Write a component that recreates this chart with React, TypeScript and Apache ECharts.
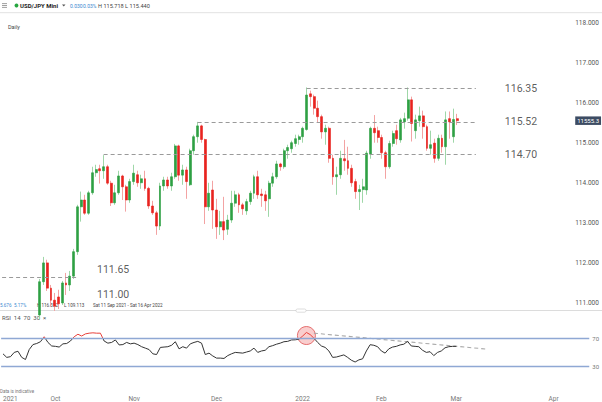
import React, { useEffect, useRef } from "react";
import * as echarts from "echarts";

// ---------- data ----------
const firstDay = "2021-09-13";
const mainCount = 150;
const rsiCount = 157;

const opens = [
  109.95, 110.05, 109.7, 109.35, 109.75, 109.95, 109.4, 109.25, 109.8, 110.3,
  110.7, 111.53, 112.0, 111.37, 111.07, 111.15, 111.0, 111.5, 111.45, 111.67,
  112.28, 113.4, 113.57, 113.24, 113.75, 114.25, 114.35, 114.3, 114.4, 113.99,
  113.5, 113.75, 114.17, 113.9, 113.57, 114.03, 114.2, 114.0, 114.1, 113.86,
  113.42, 113.25, 112.92, 113.92, 114.07, 113.92, 114.15, 114.92, 114.19, 114.32,
  113.95, 114.8, 115.15, 115.42, 115.08, 113.4, 113.82, 113.32, 112.9, 113.03,
  112.84, 113.07, 113.49, 113.7, 113.45, 113.3, 113.53, 113.74, 114.15, 113.72,
  113.7, 113.6, 113.99, 114.15, 114.47, 114.4, 114.8, 114.85, 114.98, 115.08,
  115.15, 115.33, 116.22, 116.15, 115.86, 115.65, 115.27, 115.36, 114.61, 114.15,
  114.2, 114.6, 114.55, 114.36, 114.03, 113.78, 113.83, 113.82, 114.72, 115.36,
  115.3, 115.13, 114.75, 114.4, 114.98, 115.3, 115.07, 115.52, 115.61, 116.07,
  115.3, 115.55, 115.67, 115.4, 114.86, 114.99, 114.61, 115.11, 114.9, 115.6,
  115.15, 115.6,
];
const closes = [
  110.05, 109.7, 109.35, 109.75, 109.95, 109.4, 109.25, 109.8, 110.3, 110.7,
  111.53, 112.0, 111.37, 111.07, 110.92, 110.98, 111.5, 111.45, 111.67, 112.28,
  113.4, 113.57, 113.24, 113.75, 114.25, 114.33, 114.3, 114.4, 113.99, 113.5,
  113.75, 114.17, 113.9, 113.57, 114.03, 114.24, 114.0, 114.1, 113.86, 113.42,
  113.25, 112.92, 113.92, 114.07, 113.92, 114.15, 114.92, 114.19, 114.32, 114.03,
  114.8, 115.15, 115.42, 115.08, 113.4, 113.74, 113.32, 112.9, 113.03, 112.82,
  113.07, 113.49, 113.7, 113.45, 113.35, 113.53, 113.74, 114.15, 113.7, 113.68,
  113.55, 113.99, 114.15, 114.47, 114.4, 114.8, 114.88, 115.0, 115.1, 115.15,
  115.36, 116.19, 116.15, 115.86, 115.65, 115.27, 115.36, 114.61, 114.15, 114.2,
  114.61, 114.55, 114.36, 114.0, 113.78, 113.83, 113.9, 114.74, 115.36, 115.25,
  115.13, 114.75, 114.4, 114.98, 115.23, 115.1, 115.57, 115.6, 116.07, 115.48,
  115.57, 115.67, 115.4, 114.86, 114.95, 114.61, 115.11, 114.9, 115.57, 115.52,
  115.58, 115.55,
];
const lows = [
  109.75, 109.6, 109.15, 109.15, 109.6, 109.1, 109.1, 109.2, 109.6, 110.2,
  110.6, 111.45, 111.3, 110.9, 110.8, 110.85, 110.95, 111.2, 111.3, 111.6,
  112.2, 113.03, 113.2, 113.2, 113.7, 114.15, 113.98, 114.1, 113.95, 113.42,
  113.45, 113.7, 113.57, 113.28, 113.5, 113.95, 113.9, 113.85, 113.8, 113.35,
  113.2, 112.7, 112.82, 113.8, 113.85, 113.8, 114.1, 114.05, 113.95, 113.6,
  113.92, 114.7, 115.0, 115.0, 112.97, 113.3, 112.85, 112.6, 112.7, 112.57,
  112.7, 113.0, 113.4, 113.25, 113.2, 113.2, 113.45, 113.6, 113.6, 113.4,
  113.3, 113.15, 113.9, 114.1, 114.3, 114.35, 114.6, 114.75, 114.9, 114.95,
  115.0, 115.3, 115.9, 115.7, 115.5, 115.1, 114.95, 114.5, 113.95, 113.7,
  114.1, 114.3, 114.2, 113.9, 113.6, 113.32, 113.5, 113.7, 114.6, 115.0,
  115.0, 114.6, 114.1, 114.35, 114.9, 114.95, 115.0, 115.35, 115.55, 115.03,
  115.1, 115.4, 115.1, 114.8, 114.7, 114.5, 114.55, 114.75, 114.45, 115.1,
  115.0, 115.44,
];
const highs = [
  110.15, 110.15, 109.8, 109.85, 110.05, 110.0, 109.65, 110.1, 110.5, 110.78,
  111.6, 112.15, 112.08, 111.45, 111.25, 111.33, 111.55, 111.75, 111.8, 112.35,
  113.45, 113.78, 113.7, 113.8, 114.4, 114.45, 114.45, 114.69, 114.45, 114.05,
  113.95, 114.3, 114.2, 113.95, 114.1, 114.45, 114.3, 114.2, 114.3, 113.9,
  113.55, 113.3, 114.0, 114.15, 114.15, 114.25, 114.97, 114.95, 114.45, 114.4,
  114.85, 115.2, 115.52, 115.45, 115.1, 114.0, 114.05, 113.6, 113.3, 113.65,
  113.2, 113.8, 113.8, 113.75, 113.5, 113.6, 113.8, 114.2, 114.3, 113.85,
  113.8, 114.05, 114.25, 114.55, 114.5, 114.85, 114.95, 115.05, 115.2, 115.2,
  115.4, 116.38, 116.3, 116.2, 116.05, 115.7, 115.45, 115.4, 114.7, 114.4,
  114.8, 115.07, 114.9, 114.45, 114.1, 113.95, 114.1, 114.8, 115.4, 115.69,
  115.4, 115.2, 114.8, 115.05, 115.3, 115.45, 115.62, 115.75, 116.38, 116.15,
  115.7, 115.9, 115.8, 115.45, 115.3, 115.1, 115.2, 115.2, 115.78, 115.78,
  115.85, 115.72,
];
const rsi = [
  48, 43, 44, 50, 51.6, 43, 40, 54, 61, 62.5,
  65, 72, 64, 59, 58.5, 57.5, 62, 62.5, 66, 72,
  75.5, 73, 76, 77, 77.5, 77, 77, 66, 63, 64,
  67.5, 60.5, 61, 64, 62, 63, 61, 58, 56, 54,
  48, 47, 57, 57.5, 58, 60, 65, 55, 58, 56,
  62, 64, 65.5, 63, 47, 49, 45, 42, 42, 41.5,
  45.5, 48, 50, 49.5, 49, 50.5, 52, 56, 50, 52,
  53, 58, 59.5, 61.5, 63, 65, 65.5, 67.5, 67.7, 68.5,
  73, 78, 75, 70, 64, 59, 57, 52, 43, 43.5,
  45, 46.5, 43, 39, 36.5, 39.5, 41, 52, 60.8, 60,
  58, 52, 49, 55, 57.5, 58.5, 60.5, 61.5, 65.5, 59,
  58.5, 58, 53, 50, 51, 45.5, 50, 52, 56.5, 58,
  58.5, 58.5,
];

const levelValues = [116.35, 115.52, 114.7, 111.65];
const levelStarts = ["2022-01-04", "2021-11-24", "2021-10-20", "2021-09-13"];
const levelEnds = ["2022-03-08", "2022-03-08", "2022-03-08", "2021-10-11"];
const levelLabelValues = [116.35, 115.52, 114.7, 111.65, 111.0];
const priceTicks = [111, 112, 113, 114, 115, 116, 117, 118];
const rsiTicks = [30, 70];
const rsiLevels = [70, 30];
const monthTicks: [string, string][] = [
  ["2021-09-13", "2021"],
  ["2021-10-01", "Oct"],
  ["2021-11-01", "Nov"],
  ["2021-12-01", "Dec"],
  ["2022-01-03", "2022"],
  ["2022-02-01", "Feb"],
  ["2022-03-01", "Mar"],
  ["2022-04-06", "Apr"],
];
const lastPrice = 115.553;
const lastPriceText = "11555.3";
const rsiTrend: [string, number][] = [
  ["2022-01-06", 77],
  ["2022-03-11", 54.7],
];
const rsiPeak: [string, number] = ["2022-01-04", 73.7];

// ---------- helpers ----------
function weekdayDates(start: string, count: number): string[] {
  const out: string[] = [];
  const d = new Date(start + "T00:00:00Z");
  while (out.length < count) {
    const wd = d.getUTCDay();
    if (wd !== 0 && wd !== 6) out.push(d.toISOString().slice(0, 10));
    d.setUTCDate(d.getUTCDate() + 1);
  }
  return out;
}

const FONT = "Roboto, 'Liberation Sans', sans-serif";
const GREEN = "#2ea043";
const RED = "#e8231f";
const GREEN_W = "#9fd7a8";
const RED_W = "#f3a3a3";
const CLEAR = "rgba(0,0,0,0)";

export default function App() {
  const ref = useRef<HTMLDivElement>(null);

  useEffect(() => {
    if (!ref.current) return;
    const chart = echarts.init(ref.current, null, { renderer: "svg" });

    const allDates = weekdayDates(firstDay, rsiCount);
    const mainDates = allDates.slice(0, mainCount);
    const candleDates = allDates.slice(0, opens.length);

    const wickData = candleDates.map((d, i) => [opens[i], closes[i], lows[i], highs[i]]);
    const bodyData = candleDates.map((d, i) => [
      opens[i],
      closes[i],
      Math.min(opens[i], closes[i]),
      Math.max(opens[i], closes[i]),
    ]);

    const monthMap: Record<string, string> = {};
    monthTicks.forEach(([d, t]) => (monthMap[d] = t));

    const band = 3.76;
    const gridLeft = 0.22;

    const upperLabelIdx = 138;
    const lowerLabelIdx = 29;
    const labelData = levelLabelValues.map((v) => {
      const lower = v < 112;
      return {
        value: [lower ? lowerLabelIdx : upperLabelIdx, v],
        label: {
          offset: lower ? [2, v === 111.0 ? -8.5 : -7] : [0, 0],
        },
      };
    });

    const text = (x: number, y: number, t: string, size: number, fill: string, weight: any = "normal") => ({
      type: "text",
      x,
      y,
      silent: true,
      style: {
        text: t,
        fill,
        fontSize: size,
        fontFamily: FONT,
        fontWeight: weight,
        verticalAlign: "middle",
        align: "left",
      },
    });

    const option: any = {
      animation: false,
      textStyle: { fontFamily: FONT },
      grid: [
        { left: gridLeft, top: 14.09, width: band * mainCount, height: 296.1 },
        { left: gridLeft, top: 316.8, width: band * rsiCount, height: 71.75 },
      ],
      xAxis: [
        {
          type: "category",
          gridIndex: 0,
          data: mainDates,
          boundaryGap: true,
          axisLine: { show: false },
          axisTick: { show: false },
          axisLabel: { show: false },
          splitLine: { show: false },
        },
        {
          type: "category",
          gridIndex: 1,
          data: allDates,
          boundaryGap: true,
          axisLine: { show: false },
          axisTick: { show: false },
          splitLine: { show: false },
          axisLabel: {
            show: true,
            interval: (index: number, value: string) => monthMap[value] !== undefined,
            formatter: (value: string) => monthMap[value] || "",
            fontSize: 6.5,
            color: "#777",
            margin: 7,
            alignMinLabel: "left",
          },
        },
      ],
      yAxis: [
        {
          type: "value",
          gridIndex: 0,
          position: "right",
          min: 110.82,
          max: 118.21,
          axisLine: { show: false },
          axisTick: { show: false },
          splitLine: { show: false },
          axisLabel: {
            customValues: priceTicks,
            formatter: (v: number) => v.toFixed(3),
            fontSize: 6.5,
            color: "#555",
            margin: 11,
          },
        },
        {
          type: "value",
          gridIndex: 1,
          position: "right",
          min: 0,
          max: 100,
          axisLine: { show: false },
          axisTick: { show: false },
          splitLine: { show: false },
          axisLabel: {
            customValues: rsiTicks,
            fontSize: 6,
            color: "#777",
            margin: 3,
          },
        },
      ],
      visualMap: {
        type: "piecewise",
        show: false,
        seriesIndex: 4,
        dimension: 1,
        pieces: [
          { gt: 70, lte: 100, color: "#e8403a" },
          { gte: 0, lte: 70, color: "#333" },
        ],
        outOfRange: { color: "#333" },
      },
      series: [
        {
          name: "wicks",
          type: "candlestick",
          xAxisIndex: 0,
          yAxisIndex: 0,
          clip: true,
          barWidth: 1,
          data: wickData,
          itemStyle: {
            color: GREEN_W,
            color0: RED_W,
            borderColor: GREEN_W,
            borderColor0: RED_W,
            borderWidth: 1,
          },
          markLine: {
            silent: true,
            symbol: ["none", "none"],
            label: { show: false },
            lineStyle: { type: [4, 3], color: "#9a9a9a", width: 1 },
            data: levelValues.map((v, i) => [
              { coord: [levelStarts[i], v] },
              { coord: [levelEnds[i], v] },
            ]),
          },
        },
        {
          name: "bodies",
          type: "candlestick",
          xAxisIndex: 0,
          yAxisIndex: 0,
          clip: true,
          barWidth: 2.4,
          data: bodyData,
          itemStyle: {
            color: GREEN,
            color0: RED,
            borderColor: GREEN,
            borderColor0: RED,
            borderWidth: 0.6,
          },
          markLine: {
            silent: true,
            symbol: ["none", "none"],
            lineStyle: { color: CLEAR, width: 0.1 },
            label: {
              show: true,
              position: "end",
              formatter: lastPriceText,
              backgroundColor: "#3d4c63",
              color: "#fff",
              fontSize: 6,
              padding: [1.5, 2, 1, 2],
              distance: 11,
            },
            data: [{ yAxis: lastPrice }],
          },
        },
        {
          name: "levelLabels",
          type: "scatter",
          xAxisIndex: 0,
          yAxisIndex: 0,
          symbolSize: 1,
          itemStyle: { color: CLEAR },
          silent: true,
          data: labelData,
          label: {
            show: true,
            position: "inside",
            formatter: (p: any) => Number(p.value[1]).toFixed(2),
            fontSize: 10.5,
            color: "#333",
            fontFamily: FONT,
          },
        },
        {
          name: "trend",
          type: "line",
          xAxisIndex: 1,
          yAxisIndex: 1,
          symbol: "none",
          silent: true,
          data: rsiTrend,
          lineStyle: { type: [4, 3], color: "#a8a8a8", width: 1.1 },
          markLine: {
            silent: true,
            symbol: ["none", "none"],
            label: { show: false },
            lineStyle: { type: "solid", color: "#8fa8d4", width: 1.3 },
            data: rsiLevels.map((v) => ({ yAxis: v })),
          },
        },
        {
          name: "RSI",
          type: "line",
          xAxisIndex: 1,
          yAxisIndex: 1,
          symbol: "none",
          silent: true,
          data: rsi,
          lineStyle: { width: 1 },
        },
        {
          name: "peak",
          type: "scatter",
          xAxisIndex: 1,
          yAxisIndex: 1,
          silent: true,
          symbolSize: 18,
          data: [rsiPeak],
          itemStyle: {
            color: "rgba(235,80,80,0.35)",
            borderColor: "#e05050",
            borderWidth: 1,
          },
        },
      ],
      graphic: [
        { type: "line", silent: true, shape: { x1: 0, y1: 12.7, x2: 602, y2: 12.7 }, style: { stroke: "#e2e2e2", lineWidth: 1 } },
        { type: "line", silent: true, shape: { x1: 0, y1: 310.5, x2: 602, y2: 310.5 }, style: { stroke: "#dcdcdc", lineWidth: 1 } },
        { type: "rect", silent: true, shape: { x: 296, y: 309, width: 10, height: 3.2, r: 1.5 }, style: { fill: "#fff", stroke: "#c8c8c8", lineWidth: 0.6 } },
        { type: "line", silent: true, shape: { x1: 2, y1: 3.6, x2: 7, y2: 3.6 }, style: { stroke: "#777", lineWidth: 0.7 } },
        { type: "line", silent: true, shape: { x1: 2, y1: 5.5, x2: 7, y2: 5.5 }, style: { stroke: "#777", lineWidth: 0.7 } },
        { type: "line", silent: true, shape: { x1: 2, y1: 7.4, x2: 7, y2: 7.4 }, style: { stroke: "#777", lineWidth: 0.7 } },
        { type: "circle", silent: true, shape: { cx: 16.5, cy: 5.5, r: 1.9 }, style: { fill: "#25a63f" } },
        text(20, 5.6, "USD/JPY Mini", 6, "#222", "bold"),
        { type: "polygon", silent: true, shape: { points: [[62, 4.5], [65.5, 4.5], [63.75, 6.6]] }, style: { fill: "#555" } },
        text(70, 5.6, "0.030", 5, "#3a87d0"),
        text(83, 5.6, "0.03%", 5, "#3a87d0"),
        text(98, 5.6, "H 115.718 L 115.440", 5.6, "#444"),
        text(8, 27, "Daily", 5.5, "#444"),
        text(0, 305, "5.676", 4.6, "#3a87d0"),
        text(14, 305, "5.17%", 4.6, "#3a87d0"),
        text(37, 305, "H 116.352", 4.6, "#444"),
        text(64, 305, "L 109.113", 4.6, "#444"),
        text(93, 305, "Sat 11 Sep 2021 - Sat 16 Apr 2022", 4.6, "#444"),
        text(2, 317, "RSI  14  70  30  ×", 6, "#555"),
        text(0, 391, "Data is indicative", 4.5, "#777"),
      ],
    };

    chart.setOption(option);
    return () => chart.dispose();
  }, []);

  return (
    <div
      ref={ref}
      style={{ position: "fixed", left: 0, top: 0, width: 602, height: 402, background: "#fff" }}
    />
  );
}
